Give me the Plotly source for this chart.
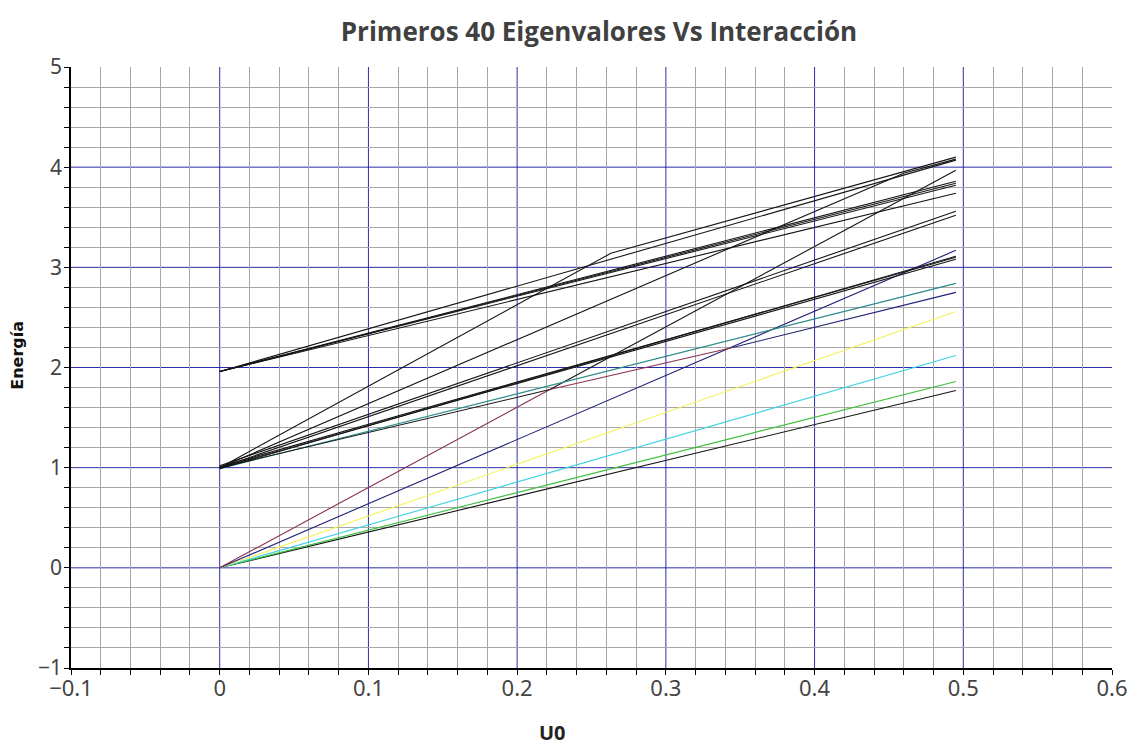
import plotly.graph_objects as go

# ---------------- data ----------------
U0_START = 0.0
U0_END = 0.495

# levels that start at E = 0 and stay straight
a_ends = [1.77, 1.86, 2.12, 2.56, 3.17]
a_colors = ["#151515", "#3cbf3c", "#3ed2e2", "#f3f35c", "#202078"]

# steep level from E = 0 (brown at first, black after the crossing)
steep_u = [0.0, 0.222, 0.495]
steep_e = [0.0, 1.78, 3.97]
steep_colors = ["#8a3050", "#151515"]

# levels that start at E ~ 1 and stay straight
b_starts = [0.99, 1.00, 1.01, 0.99, 1.00, 1.02]
b_ends = [2.84, 3.08, 3.10, 3.11, 3.52, 3.56]
b_colors = ["#2a8a8a", "#151515", "#151515", "#151515", "#151515", "#151515"]

# kinked levels starting at E ~ 1
b1_u = [0.0, 0.222, 0.345, 0.495]
b1_e = [1.00, 1.78, 2.20, 2.75]
b1_colors = ["#151515", "#8a3050", "#202078"]

b8_u = [0.0, 0.46, 0.495]
b8_e = [1.00, 3.94, 4.08]

b9_u = [0.0, 0.263, 0.495]
b9_e = [1.00, 3.14, 4.10]

# levels that start at E ~ 1.96
c_start = 1.96
c_ends = [4.07, 3.86, 3.84, 3.82, 3.74]

# major (blue) grid positions
x_major_grid = [0.0, 0.1, 0.2, 0.3, 0.4, 0.5]
y_major_grid = [0, 1, 2, 3, 4]

TITLE = "Primeros 40 Eigenvalores Vs Interacción"
XLABEL = "U0"
YLABEL = "Energía"

# ---------------- figure ----------------
fig = go.Figure()


def add_line(us, es, color, width=1.1):
    fig.add_trace(go.Scatter(x=us, y=es, mode="lines",
                             line=dict(color=color, width=width),
                             showlegend=False, hoverinfo="skip"))


def add_segmented(us, es, colors):
    for i, col in enumerate(colors):
        add_line(us[i:i + 2], es[i:i + 2], col)


for e, col in zip(a_ends, a_colors):
    add_line([U0_START, U0_END], [0.0, e], col)

add_segmented(steep_u, steep_e, steep_colors)

for s, e, col in zip(b_starts, b_ends, b_colors):
    add_line([U0_START, U0_END], [s, e], col)

add_segmented(b1_u, b1_e, b1_colors)
add_line(b8_u, b8_e, "#151515")
add_line(b9_u, b9_e, "#151515")

for e in c_ends:
    add_line([U0_START, U0_END], [c_start, e], "#151515")

x_tick_font = dict(family="Noto Sans", size=22, color="#444444")
y_tick_font = dict(family="Noto Sans", size=21, color="#444444")
major_grid = "#2c2ca6"
minor_grid = "#a6a6a6"

fig.update_xaxes(
    range=[-0.1, 0.6], tickmode="linear", tick0=0, dtick=0.1,
    showgrid=False,
    zeroline=False, showline=True, linecolor="black", linewidth=1.5,
    ticks="outside", ticklen=5, tickcolor="black", tickfont=x_tick_font,
    ticklabelstandoff=-5,
    minor=dict(dtick=0.02, showgrid=True, gridcolor=minor_grid,
               ticks="outside", ticklen=5, tickcolor="black"),
)
fig.update_yaxes(
    range=[-1, 5], tickmode="linear", tick0=0, dtick=1,
    showgrid=False,
    zeroline=False, showline=True, linecolor="black", linewidth=1.5,
    ticks="outside", ticklen=5, tickcolor="black", tickfont=y_tick_font,
    ticklabelstandoff=-2,
    minor=dict(dtick=0.2, showgrid=True, gridcolor=minor_grid,
               ticks="outside", ticklen=5, tickcolor="black"),
)

shapes = []
for gx in x_major_grid:
    shapes.append(dict(type="line", xref="x", yref="paper", x0=gx, x1=gx, y0=0, y1=1,
                       line=dict(color=major_grid, width=1), layer="below"))
for gy in y_major_grid:
    shapes.append(dict(type="line", xref="paper", yref="y", x0=0, x1=1, y0=gy, y1=gy,
                       line=dict(color=major_grid, width=1), layer="below"))

# page body has an 8px margin: figure is placed at (8, 8)
fig.update_layout(
    width=1131, height=739,
    margin=dict(l=63, r=27, t=59, b=79),
    paper_bgcolor="white", plot_bgcolor="white",
    shapes=shapes,
    title=dict(text=TITLE, x=0.5225, xanchor="center", y=0.967, yanchor="middle",
               font=dict(family="Open Sans", size=26, color="#404040", weight="bold")),
    annotations=[
        dict(text=XLABEL, xref="paper", yref="paper", x=0.463, y=-0.108,
             showarrow=False, xanchor="center", yanchor="middle",
             font=dict(family="Open Sans", size=20, color="#222222", weight="bold")),
        dict(text=YLABEL, xref="paper", yref="paper", x=-0.051, y=0.521,
             showarrow=False, xanchor="center", yanchor="middle", textangle=-90,
             font=dict(family="DejaVu Sans", size=16, color="#111111", weight="bold")),
    ],
)

fig.write_html("out.html")
